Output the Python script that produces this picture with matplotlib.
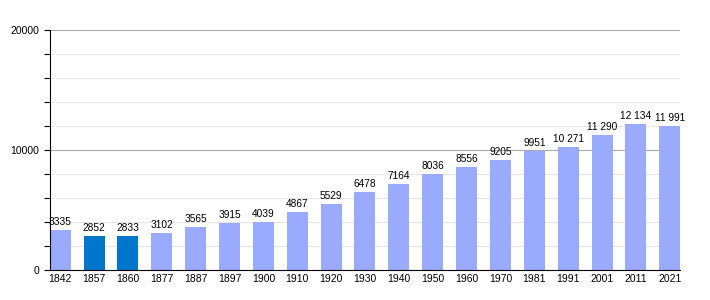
import matplotlib
matplotlib.use("Agg")
import matplotlib.pyplot as plt
import numpy as np

annees = ["1842", "1857", "1860", "1877", "1887", "1897", "1900", "1910", "1920",
          "1930", "1940", "1950", "1960", "1970", "1981", "1991", "2001", "2011", "2021"]
population = [3335, 2852, 2833, 3102, 3565, 3915, 4039, 4867, 5529,
              6478, 7164, 8036, 8556, 9205, 9951, 10271, 11290, 12134, 11991]
foncees = ["1857", "1860"]

plt.rcParams["font.family"] = ["Liberation Sans", "DejaVu Sans"]


def fmt(v):
    # séparateur de milliers par espace à partir de 10 000
    return f"{v:,}".replace(",", " ") if v >= 10000 else str(v)


fig = plt.figure(figsize=(7.1, 3.0), dpi=100)
ax = fig.add_axes([0.0704, 0.1, 0.8873, 0.8])

x = np.arange(len(annees))
couleurs = ["#0077cc" if a in foncees else "#99aaff" for a in annees]
ax.bar(x, population, width=0.62, color=couleurs, zorder=2)

for xi, v in zip(x, population):
    ax.text(xi, v + 250, fmt(v), ha="center", va="bottom", fontsize=7.3, zorder=3)

ax.set_xlim(-0.3, len(annees) - 0.7)
ax.set_ylim(0, 20000)
ax.set_xticks(x)
ax.set_xticklabels(annees, fontsize=7.5)
ax.set_yticks([0, 10000, 20000])
ax.set_yticklabels(["0", "10000", "20000"], fontsize=7.5)
ax.set_yticks(np.arange(0, 20001, 2000), minor=True)
ax.tick_params(axis="x", length=0, pad=3)
ax.tick_params(axis="y", which="both", length=4, width=0.8, direction="out")

for y in range(2000, 20001, 2000):
    c = "#aaaaaa" if y % 10000 == 0 else "#e6e6e6"
    ax.axhline(y, color=c, lw=0.8, zorder=1)

for s in ["top", "right"]:
    ax.spines[s].set_visible(False)
ax.spines["left"].set_linewidth(0.8)
ax.spines["bottom"].set_linewidth(0.8)

fig.savefig("out.png", dpi=100)
